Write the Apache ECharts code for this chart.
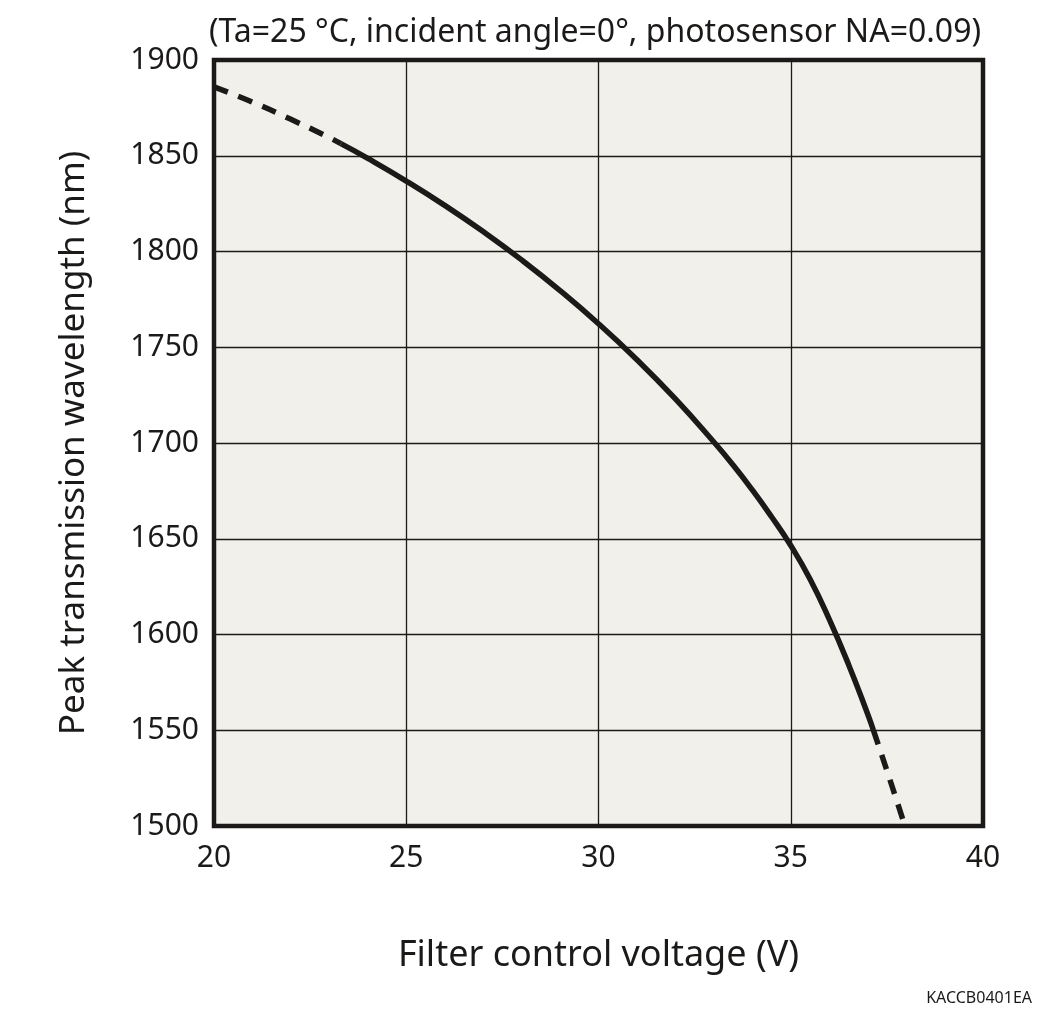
<!DOCTYPE html>
<html><head><meta charset="utf-8">
<script src="https://cdn.jsdelivr.net/npm/echarts@6/dist/echarts.min.js"></script>
<style>html,body{margin:0;padding:0;background:#fff}#c{width:1062px;height:1032px}</style>
</head><body><div id="c"></div>
<script>
var xTicks = [20, 25, 30, 35, 40];
var yTicks = [1500, 1550, 1600, 1650, 1700, 1750, 1800, 1850, 1900];
var upperDashed = [[20, 1886], [21, 1878], [22, 1869], [23, 1859.5], [23.3, 1856.3]];
var solidCurve = [[23.3, 1856.3], [24, 1848.6], [25, 1836.8], [26, 1824.1], [27, 1810.4], [28, 1795.6], [29, 1779.6], [30, 1762.3], [31, 1743.5], [32, 1723], [33, 1700.5], [33.5, 1688.5], [34, 1675.5], [34.5, 1661.5], [35, 1646.5], [35.5, 1629], [36, 1608], [36.5, 1584.5], [37, 1558.5], [37.15, 1550]];
var lowerDashed = [[37.15, 1550], [37.5, 1529], [37.97, 1500]];
var titleText = '(Ta=25 °C, incident angle=0°, photosensor NA=0.09)';
var xName = 'Filter control voltage (V)';
var yName = 'Peak transmission wavelength (nm)';
var code = 'KACCB0401EA';

var FONT = '"Noto Sans", "DejaVu Sans", sans-serif';
var ink = '#1c1a19';
var chart = echarts.init(document.getElementById('c'), null, {renderer: 'canvas'});
chart.setOption({
  animation: false,
  backgroundColor: '#ffffff',
  grid: {left: 214, right: 79, top: 60, bottom: 206, show: true, backgroundColor: '#f1f0ea', borderColor: ink, borderWidth: 4.5, containLabel: false},
  xAxis: {
    type: 'value', min: xTicks[0], max: xTicks[xTicks.length - 1], interval: 5,
    axisLine: {show: false}, axisTick: {show: false},
    axisLabel: {color: ink, fontFamily: FONT, fontSize: 30, margin: 17, formatter: function (v) { return String(v); }},
    splitLine: {show: true, lineStyle: {color: ink, width: 1.3}},
    name: xName, nameLocation: 'middle', nameGap: 112,
    nameTextStyle: {color: ink, fontFamily: FONT, fontSize: 36}
  },
  yAxis: {
    type: 'value', min: yTicks[0], max: yTicks[yTicks.length - 1], interval: 50,
    axisLine: {show: false}, axisTick: {show: false},
    axisLabel: {color: ink, fontFamily: FONT, fontSize: 30, margin: 15, formatter: function (v) { return String(v); }},
    splitLine: {show: true, lineStyle: {color: ink, width: 1.3}},
    name: yName, nameLocation: 'middle', nameGap: 122,
    nameTextStyle: {color: ink, fontFamily: FONT, fontSize: 35}
  },
  graphic: [
    {type: 'text', left: 209, top: 17, style: {text: titleText, fill: ink, font: '32px ' + FONT}},
    {type: 'text', right: 30, top: 990, style: {text: code, fill: ink, font: '16px ' + FONT}}
  ],
  series: [
    {type: 'line', data: upperDashed, smooth: 0.5, showSymbol: false, clip: true,
     lineStyle: {color: ink, width: 5.5, type: [15, 11], cap: 'butt'}},
    {type: 'line', data: solidCurve, smooth: 0.5, showSymbol: false, clip: true,
     lineStyle: {color: ink, width: 5.5}},
    {type: 'line', data: lowerDashed, smooth: 0.5, showSymbol: false, clip: true,
     lineStyle: {color: ink, width: 5.5, type: [15, 11], cap: 'butt'}}
  ]
});
</script></body></html>
